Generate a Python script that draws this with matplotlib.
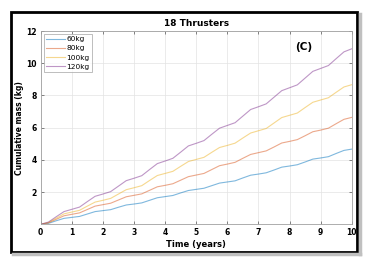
import numpy as np
import matplotlib
matplotlib.use('Agg')
import matplotlib.pyplot as plt
from matplotlib.patches import Rectangle
from matplotlib.lines import Line2D

# time axis (quarter years)
t = np.linspace(0, 10, 41)

labels = ['60kg', '80kg', '100kg', '120kg']
m60 = [0, 0.06, 0.22, 0.37, 0.43, 0.49, 0.64, 0.79, 0.85, 0.91, 1.06, 1.20, 1.26,
       1.33, 1.49, 1.65, 1.72, 1.79, 1.95, 2.10, 2.17, 2.24, 2.40, 2.56, 2.63,
       2.70, 2.88, 3.05, 3.12, 3.20, 3.37, 3.55, 3.62, 3.70, 3.87, 4.05, 4.12,
       4.20, 4.40, 4.59, 4.67]
m80 = [0, 0.09, 0.31, 0.53, 0.62, 0.71, 0.92, 1.13, 1.22, 1.31, 1.51, 1.71, 1.80,
       1.89, 2.11, 2.33, 2.42, 2.52, 2.74, 2.96, 3.06, 3.16, 3.40, 3.64, 3.74,
       3.85, 4.10, 4.34, 4.45, 4.56, 4.80, 5.05, 5.15, 5.26, 5.50, 5.75, 5.85,
       5.97, 6.25, 6.52, 6.64]
m100 = [0, 0.11, 0.38, 0.65, 0.76, 0.87, 1.13, 1.38, 1.49, 1.61, 1.88, 2.15, 2.27,
        2.40, 2.72, 3.03, 3.16, 3.29, 3.60, 3.90, 4.03, 4.16, 4.47, 4.77, 4.90,
        5.04, 5.36, 5.67, 5.81, 5.95, 6.29, 6.63, 6.77, 6.91, 7.25, 7.58, 7.72,
        7.86, 8.20, 8.53, 8.67]
m120 = [0, 0.14, 0.47, 0.79, 0.93, 1.07, 1.41, 1.74, 1.88, 2.03, 2.37, 2.71, 2.86,
        3.02, 3.40, 3.77, 3.93, 4.10, 4.48, 4.87, 5.03, 5.20, 5.59, 5.97, 6.14,
        6.31, 6.72, 7.13, 7.30, 7.48, 7.89, 8.30, 8.48, 8.66, 9.08, 9.50, 9.68,
        9.86, 10.29, 10.71, 10.90]
colors = ['#0072BD', '#D95319', '#EDB120', '#7E2F8E']

xticks = list(range(0, 11))
yticks = [2, 4, 6, 8, 10, 12]

fig = plt.figure(figsize=(3.73, 2.68), dpi=100)
ax = fig.add_axes([0.109, 0.163, 0.834, 0.721])

for y, c, lab in zip([m60, m80, m100, m120], colors, labels):
    ax.plot(t, y, color=c, alpha=0.5, lw=0.8, label=lab)

ax.set_xlim(0, 10)
ax.set_ylim(0, 12)
ax.set_xticks(xticks)
ax.set_yticks(yticks)
ax.tick_params(direction='in', top=True, right=True, length=2.5, width=0.5,
               labelsize=5.5, pad=3, color='#555555')
for lbl in ax.get_xticklabels() + ax.get_yticklabels():
    lbl.set_fontweight('bold')
ax.grid(color='#e3e3e3', lw=0.5)
for s in ax.spines.values():
    s.set_color('#a0a0a0')
    s.set_linewidth(0.6)

ax.set_title('18 Thrusters', fontsize=6.5, fontweight='bold', pad=4)
ax.set_xlabel('Time (years)', fontsize=6, fontweight='bold', labelpad=2)
ax.set_ylabel('Cumulative mass (kg)', fontsize=5.5, fontweight='bold')
ax.yaxis.set_label_coords(-0.052, 0.5)
ax.text(8.45, 11.0, '(C)', fontsize=7.5, fontweight='bold', ha='center', va='center')

leg = ax.legend(loc='upper left', fontsize=5.3, frameon=True, fancybox=False,
                handlelength=2.6, handletextpad=0.2, borderpad=0.3,
                labelspacing=0.4, borderaxespad=0.4)
leg.get_frame().set_edgecolor('#a0a0a0')
leg.get_frame().set_linewidth(0.6)

# screenshot frame with shadow on right and bottom
sx0, sx1 = 13 / 373, 359.5 / 373
sy0, sy1 = (268 - 254) / 268, (268 - 14) / 268
fig.lines.append(Line2D([sx1, sx1], [sy0, sy1], transform=fig.transFigure,
                        color='#c0c0c0', lw=2.5))
fig.lines.append(Line2D([sx0, sx1], [sy0, sy0], transform=fig.transFigure,
                        color='#c0c0c0', lw=2.5))
fig.patches.append(Rectangle((11 / 373, (268 - 251.5) / 268), 346 / 373, 240 / 268,
                             transform=fig.transFigure, fill=False,
                             edgecolor='black', lw=2.0))

fig.savefig('out.png', dpi=100)
